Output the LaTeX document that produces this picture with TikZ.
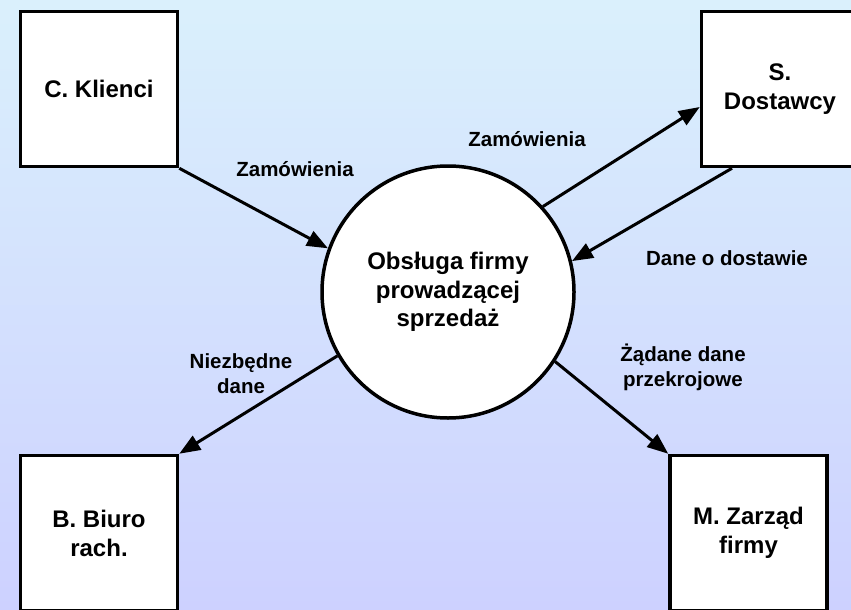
\documentclass[tikz,border=0pt]{standalone}
\usepackage{fontspec}
\setmainfont{Liberation Sans}
\usetikzlibrary{arrows.meta}
\definecolor{bgtop}{RGB}{218,240,252}
\definecolor{bgbottom}{RGB}{205,209,255}
\tikzset{
  entity/.style={draw=black, line width=3.5pt, fill=white, minimum width=157pt,
    minimum height=155pt, align=center, inner sep=0pt,
    font=\bfseries\fontsize{24}{29}\selectfont},
  process/.style={draw=black, line width=3.5pt, fill=white, circle,
    minimum size=252pt, align=center, inner sep=0pt,
    font=\bfseries\fontsize{24}{28.5}\selectfont},
  flow/.style={line width=3pt, -{Triangle[length=21pt,width=16pt]}},
  flowlabel/.style={align=center, inner sep=0pt,
    font=\bfseries\fontsize{20.5}{25}\selectfont}
}
\begin{document}
\begin{tikzpicture}[x=1pt, y=-1pt]
  \useasboundingbox (0,0) rectangle (851,610);
  \clip (0,0) rectangle (851,610);
  \shade[top color=bgtop, bottom color=bgbottom] (0,0) rectangle (851,610);

  % external entities
  \node[entity] (C) at (99,89) {C. Klienci};
  \node[entity] (S) at (780,89) {S.\\Dostawcy};
  \node[entity] (B) at (99,533) {B. Biuro\\rach.};
  \node[entity] (M) at (748.5,533) {M. Zarząd\\firmy};

  % central process
  \node[process] (P) at (448,292) {Obsługa firmy\\prowadzącej\\sprzedaż};

  % data flows
  \draw[flow] (C.south east) -- (P.160);
  \draw[flow] (P.42) -- ([yshift=-18pt]S.west);
  \draw[flow] ([xshift=-48pt]S.south) -- (P.14);
  \draw[flow] (P.210) -- (B.north east);
  \draw[flow] (P.327) -- (M.north west);

  % flow labels
  \node[flowlabel] (l1) at (295,169) {Zamówienia};
  \node[flowlabel] (l2) at (527,139) {Zamówienia};
  \node[flowlabel] (l3) at (727,258) {Dane o dostawie};
  \node[flowlabel] (l4) at (241,374) {Niezbędne\\dane};
  \node[flowlabel] (l5) at (683,367) {Żądane dane\\przekrojowe};
\end{tikzpicture}
\end{document}
